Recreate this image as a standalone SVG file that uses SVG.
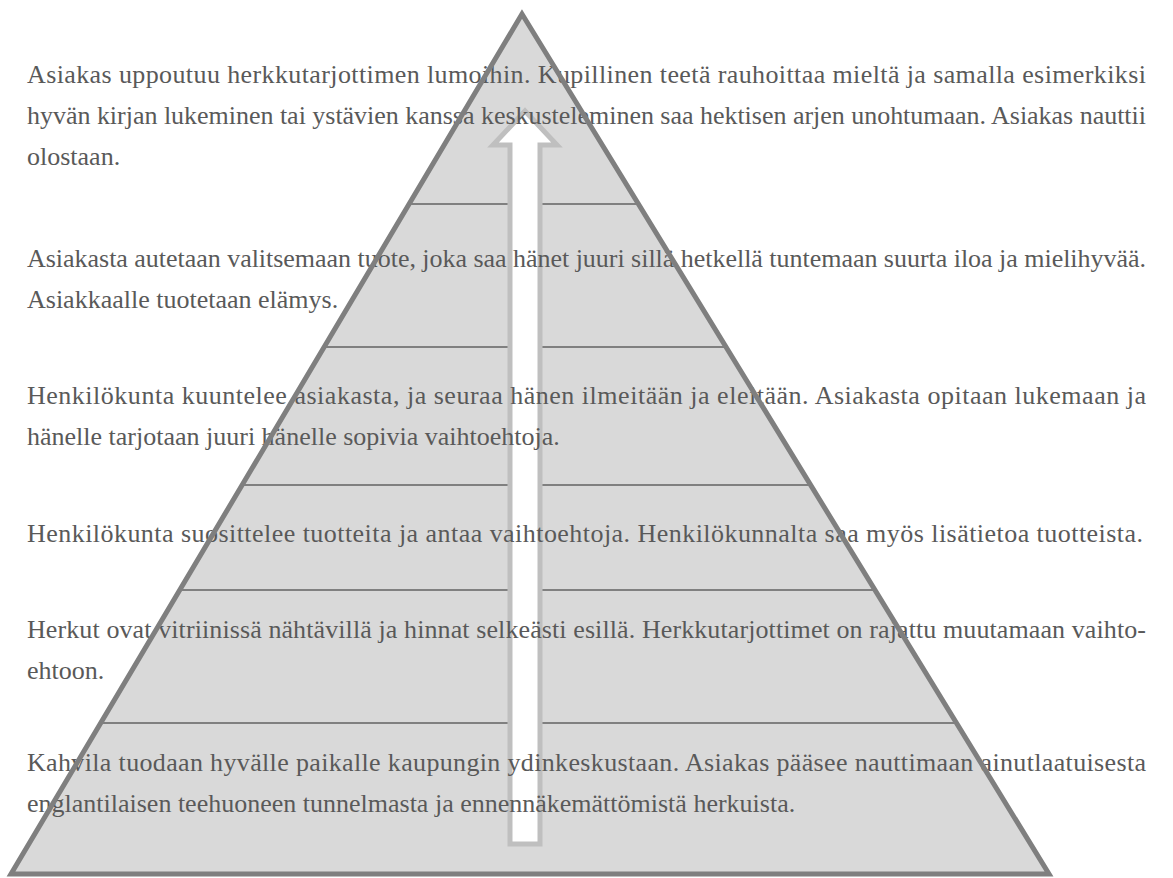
<svg xmlns="http://www.w3.org/2000/svg" width="1173" height="878" viewBox="0 0 1173 878">
<style>
.t{font-family:"Liberation Serif","Times New Roman",serif;font-size:26px;fill:#595959;}
.lvl{stroke:#808080;stroke-width:2;fill:none;}
</style>
<rect x="0" y="0" width="1173" height="878" fill="#ffffff"/>
<g id="pyramid">
<polygon points="522,14 11,874 1049,874" fill="#d9d9d9" stroke="none"/>
<line class="lvl" x1="410" y1="204" x2="638" y2="204"/>
<line class="lvl" x1="325" y1="347" x2="725" y2="347"/>
<line class="lvl" x1="244" y1="485" x2="810" y2="485"/>
<line class="lvl" x1="181" y1="590" x2="873" y2="590"/>
<line class="lvl" x1="102" y1="723" x2="956" y2="723"/>
</g>
<g id="connectors">
<polygon points="525,111 557,145 540,145 540,844 510,844 510,145 493,145" fill="#ffffff" stroke="#bfbfbf" stroke-width="5" stroke-linejoin="miter"/>
</g>
<g id="level6">
<text class="t" x="27" y="83" textLength="1119" lengthAdjust="spacing">Asiakas uppoutuu herkkutarjottimen lumoihin. Kupillinen teetä rauhoittaa mieltä ja samalla esimerkiksi</text>
<text class="t" x="27" y="124" textLength="1119" lengthAdjust="spacing">hyvän kirjan lukeminen tai ystävien kanssa keskusteleminen saa hektisen arjen unohtumaan. Asiakas nauttii</text>
<text class="t" x="27" y="165">olostaan.</text>
</g>
<g id="level5">
<text class="t" x="27" y="267" textLength="1119" lengthAdjust="spacing">Asiakasta autetaan valitsemaan tuote, joka saa hänet juuri sillä hetkellä tuntemaan suurta iloa ja mielihyvää.</text>
<text class="t" x="27" y="308">Asiakkaalle tuotetaan elämys.</text>
</g>
<g id="level4">
<text class="t" x="27" y="404" textLength="1119" lengthAdjust="spacing">Henkilökunta kuuntelee asiakasta, ja seuraa hänen ilmeitään ja eleitään. Asiakasta opitaan lukemaan ja</text>
<text class="t" x="27" y="445">hänelle tarjotaan juuri hänelle sopivia vaihtoehtoja.</text>
</g>
<g id="level3">
<text class="t" x="27" y="542" textLength="1116" lengthAdjust="spacing">Henkilökunta suosittelee tuotteita ja antaa vaihtoehtoja. Henkilökunnalta saa myös lisätietoa tuotteista.</text>
</g>
<g id="level2">
<text class="t" x="27" y="638" textLength="1119" lengthAdjust="spacing">Herkut ovat vitriinissä nähtävillä ja hinnat selkeästi esillä. Herkkutarjottimet on rajattu muutamaan vaihto-</text>
<text class="t" x="27" y="679">ehtoon.</text>
</g>
<g id="level1">
<text class="t" x="27" y="771" textLength="1119" lengthAdjust="spacing">Kahvila tuodaan hyvälle paikalle kaupungin ydinkeskustaan. Asiakas pääsee nauttimaan ainutlaatuisesta</text>
<text class="t" x="27" y="812">englantilaisen teehuoneen tunnelmasta ja ennennäkemättömistä herkuista.</text>
</g>
<g id="pyramid-outline">
<polygon points="522,14 11,874 1049,874" fill="none" stroke="#7f7f7f" stroke-width="5"/>
</g>
</svg>
